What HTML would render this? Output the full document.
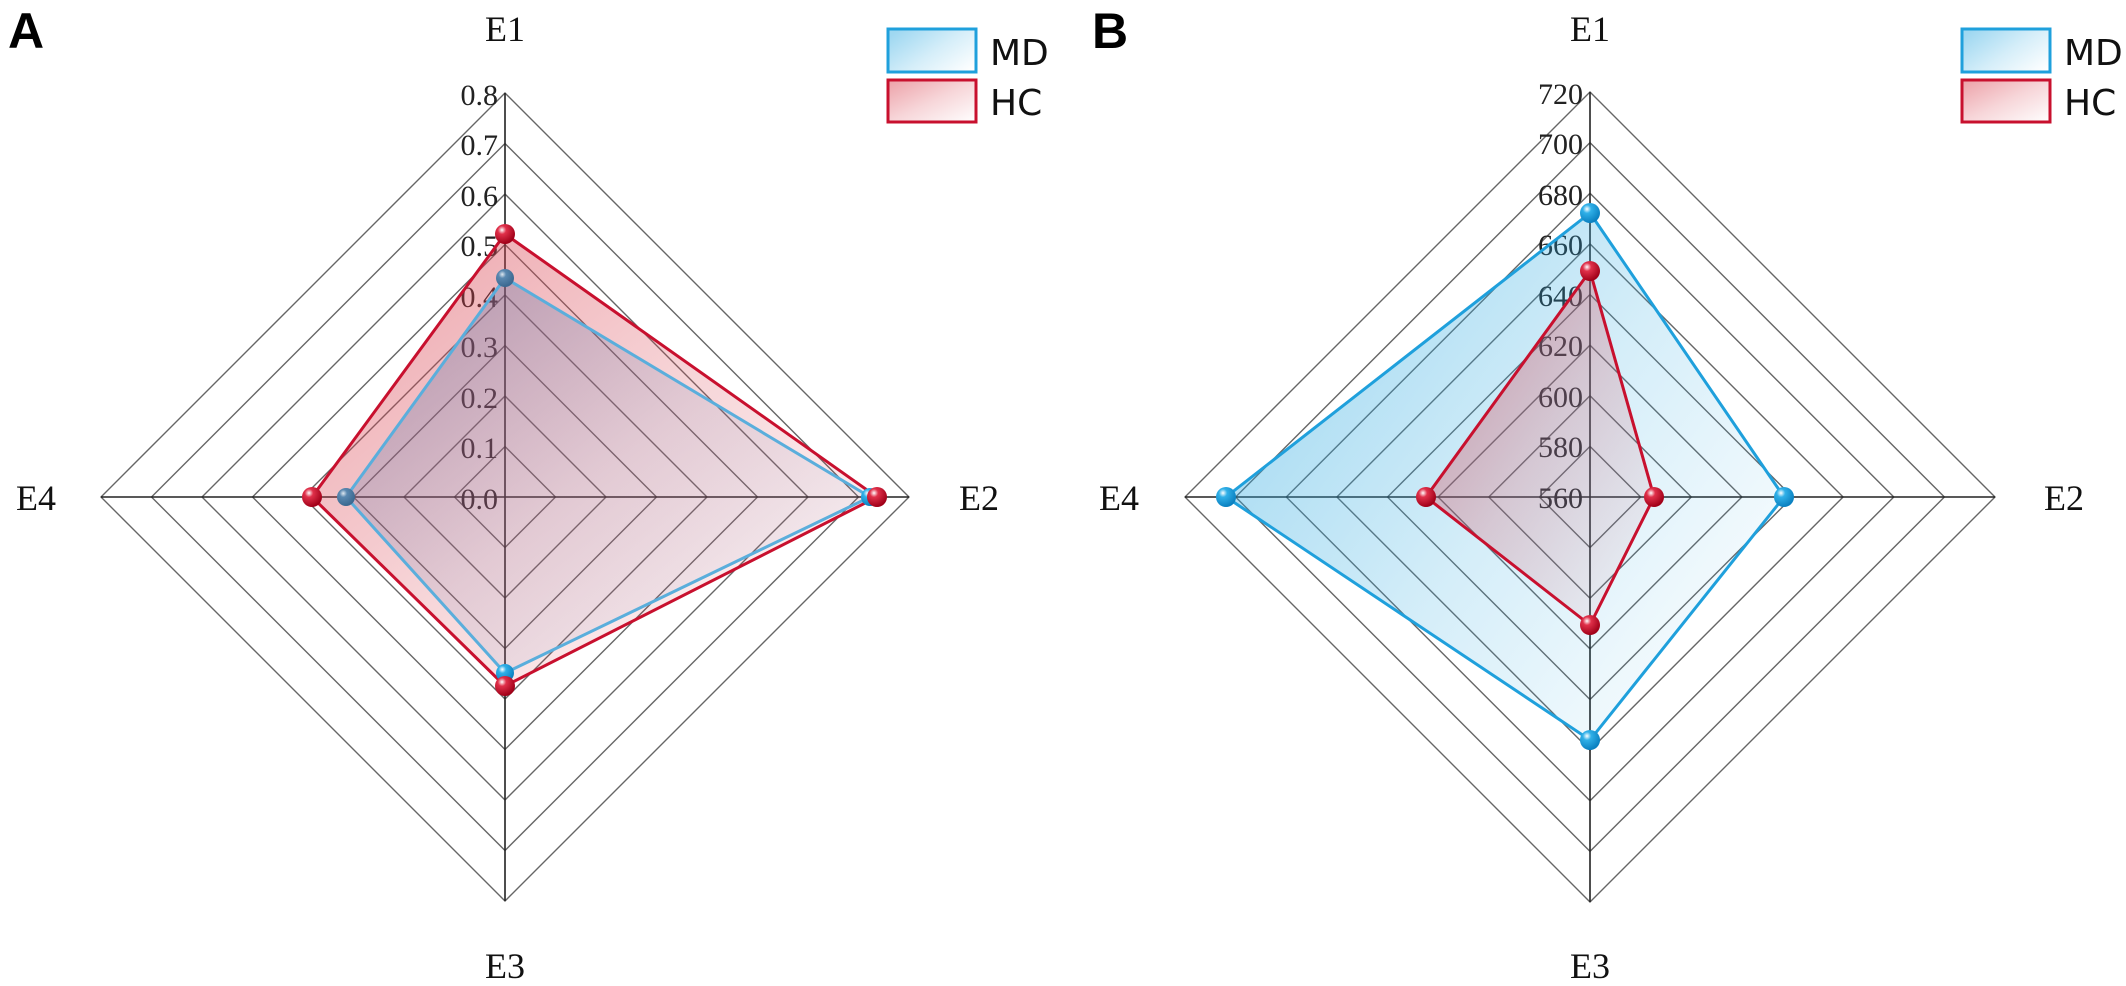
<!DOCTYPE html>
<html><head><meta charset="utf-8"><style>
html,body{margin:0;padding:0;background:#fff;}
svg{display:block;}
.ax{font-family:"Liberation Serif",serif;font-size:36px;fill:#111;}
.tk{font-family:"Liberation Serif",serif;font-size:30px;fill:#222;}
.lg{font-family:"DejaVu Sans","Liberation Sans",sans-serif;font-size:36px;fill:#111;}
.pl{font-family:"Liberation Sans",sans-serif;font-size:50px;font-weight:bold;fill:#000;}
</style></head><body>
<svg width="2126" height="986" viewBox="0 0 2126 986" xmlns="http://www.w3.org/2000/svg">
<defs>
<linearGradient id="gr" x1="0" y1="0" x2="1" y2="1"><stop offset="0" stop-color="#d9414f" stop-opacity="0.5"/><stop offset="0.5" stop-color="#d9414f" stop-opacity="0.22"/><stop offset="1" stop-color="#d9414f" stop-opacity="0"/></linearGradient>
<linearGradient id="gb" x1="0" y1="0.2" x2="1" y2="0.9"><stop offset="0" stop-color="#2aa8e0" stop-opacity="0.45"/><stop offset="0.5" stop-color="#2aa8e0" stop-opacity="0.2"/><stop offset="1" stop-color="#2aa8e0" stop-opacity="0"/></linearGradient>
<linearGradient id="gbA" x1="0" y1="0" x2="1" y2="1"><stop offset="0" stop-color="#4a6aa0" stop-opacity="0.4"/><stop offset="0.5" stop-color="#7080b0" stop-opacity="0.15"/><stop offset="1" stop-color="#8090c0" stop-opacity="0"/></linearGradient>
<radialGradient id="sr" cx="0.35" cy="0.3" r="0.7"><stop offset="0" stop-color="#fff"/><stop offset="0.3" stop-color="#e0304a"/><stop offset="1" stop-color="#a00018"/></radialGradient>
<radialGradient id="sb" cx="0.35" cy="0.3" r="0.7"><stop offset="0" stop-color="#fff"/><stop offset="0.3" stop-color="#30b0e8"/><stop offset="1" stop-color="#0a80c0"/></radialGradient>
<radialGradient id="sbA" cx="0.35" cy="0.3" r="0.7"><stop offset="0" stop-color="#e0e8f0"/><stop offset="0.3" stop-color="#5a88b0"/><stop offset="1" stop-color="#3a6890"/></radialGradient>
</defs>

<g id="A">
<g fill="none" stroke="#666" stroke-width="1.4">
<polygon points="505,93 909,497 505,901 101,497"/>
<polygon points="505,143.5 858.5,497 505,850.5 151.5,497"/>
<polygon points="505,194 808,497 505,800 202,497"/>
<polygon points="505,244.5 757.5,497 505,749.5 252.5,497"/>
<polygon points="505,295 707,497 505,699 303,497"/>
<polygon points="505,345.5 656.5,497 505,648.5 353.5,497"/>
<polygon points="505,396 606,497 505,598 404,497"/>
<polygon points="505,446.5 555.5,497 505,547.5 454.5,497"/>
</g>
<g stroke="#222" stroke-width="1.6"><line x1="505" y1="93" x2="505" y2="901"/><line x1="101" y1="497" x2="909" y2="497"/></g>
<g class="tk" text-anchor="end">
<text x="498" y="105">0.8</text><text x="498" y="155">0.7</text><text x="498" y="206">0.6</text><text x="498" y="256">0.5</text>
<text x="498" y="307">0.4</text><text x="498" y="357">0.3</text><text x="498" y="408">0.2</text><text x="498" y="458">0.1</text><text x="498" y="509">0.0</text>
</g>
<polygon points="505,234 877,497 505,686 312,497" fill="url(#gr)" stroke="#c8102e" stroke-width="3"/>
<polygon points="505,278 870,497 505,673 346,497" fill="url(#gbA)" stroke="#5aaedc" stroke-width="3"/>
<circle cx="505" cy="278" r="9" fill="url(#sbA)"/><circle cx="346" cy="497" r="9" fill="url(#sbA)"/>
<circle cx="870" cy="497" r="9" fill="url(#sb)"/><circle cx="505" cy="673" r="9" fill="url(#sb)"/>
<circle cx="505" cy="234" r="10" fill="url(#sr)"/><circle cx="877" cy="497" r="10" fill="url(#sr)"/>
<circle cx="505" cy="686" r="10" fill="url(#sr)"/><circle cx="312" cy="497" r="10" fill="url(#sr)"/>
<g class="ax" text-anchor="middle"><text x="505" y="41">E1</text><text x="979" y="510">E2</text><text x="505" y="978">E3</text><text x="36" y="510">E4</text></g>
<rect x="888" y="29" width="88" height="43" fill="url(#gb)" stroke="#1fa0dc" stroke-width="3"/>
<rect x="888" y="80" width="88" height="42" fill="url(#gr)" stroke="#c8102e" stroke-width="3"/>
<text class="lg" x="990" y="65">MD</text><text class="lg" x="990" y="115">HC</text>
<text class="pl" x="8" y="48">A</text>
</g>

<g id="B">
<g fill="none" stroke="#666" stroke-width="1.4">
<polygon points="1590,92 1995,497 1590,902 1185,497"/>
<polygon points="1590,142.6 1944.4,497 1590,851.4 1235.6,497"/>
<polygon points="1590,193.3 1893.8,497 1590,800.8 1286.3,497"/>
<polygon points="1590,243.9 1843.1,497 1590,750.1 1336.9,497"/>
<polygon points="1590,294.5 1792.5,497 1590,699.5 1387.5,497"/>
<polygon points="1590,345.1 1741.9,497 1590,648.9 1438.1,497"/>
<polygon points="1590,395.8 1691.3,497 1590,598.3 1488.8,497"/>
<polygon points="1590,446.4 1640.6,497 1590,547.6 1539.4,497"/>
</g>
<g stroke="#222" stroke-width="1.6"><line x1="1590" y1="92" x2="1590" y2="902"/><line x1="1185" y1="497" x2="1995" y2="497"/></g>
<g class="tk" text-anchor="end">
<text x="1583" y="104">720</text><text x="1583" y="154">700</text><text x="1583" y="205">680</text><text x="1583" y="255">660</text>
<text x="1583" y="306">640</text><text x="1583" y="356">620</text><text x="1583" y="407">600</text><text x="1583" y="457">580</text><text x="1583" y="508">560</text>
</g>
<polygon points="1590,213 1784,497 1590,740 1226,497" fill="url(#gb)" stroke="#1fa0dc" stroke-width="3"/>
<polygon points="1590,271 1654,497 1590,625 1426,497" fill="url(#gr)" stroke="#c8102e" stroke-width="3"/>
<circle cx="1590" cy="213" r="10" fill="url(#sb)"/><circle cx="1784" cy="497" r="10" fill="url(#sb)"/>
<circle cx="1590" cy="740" r="10" fill="url(#sb)"/><circle cx="1226" cy="497" r="10" fill="url(#sb)"/>
<circle cx="1590" cy="271" r="10" fill="url(#sr)"/><circle cx="1654" cy="497" r="10" fill="url(#sr)"/>
<circle cx="1590" cy="625" r="10" fill="url(#sr)"/><circle cx="1426" cy="497" r="10" fill="url(#sr)"/>
<g class="ax" text-anchor="middle"><text x="1590" y="41">E1</text><text x="2064" y="510">E2</text><text x="1590" y="978">E3</text><text x="1119" y="510">E4</text></g>
<rect x="1962" y="29" width="88" height="43" fill="url(#gb)" stroke="#1fa0dc" stroke-width="3"/>
<rect x="1962" y="80" width="88" height="42" fill="url(#gr)" stroke="#c8102e" stroke-width="3"/>
<text class="lg" x="2064" y="65">MD</text><text class="lg" x="2064" y="115">HC</text>
<text class="pl" x="1092" y="48">B</text>
</g>
</svg>
</body></html>
